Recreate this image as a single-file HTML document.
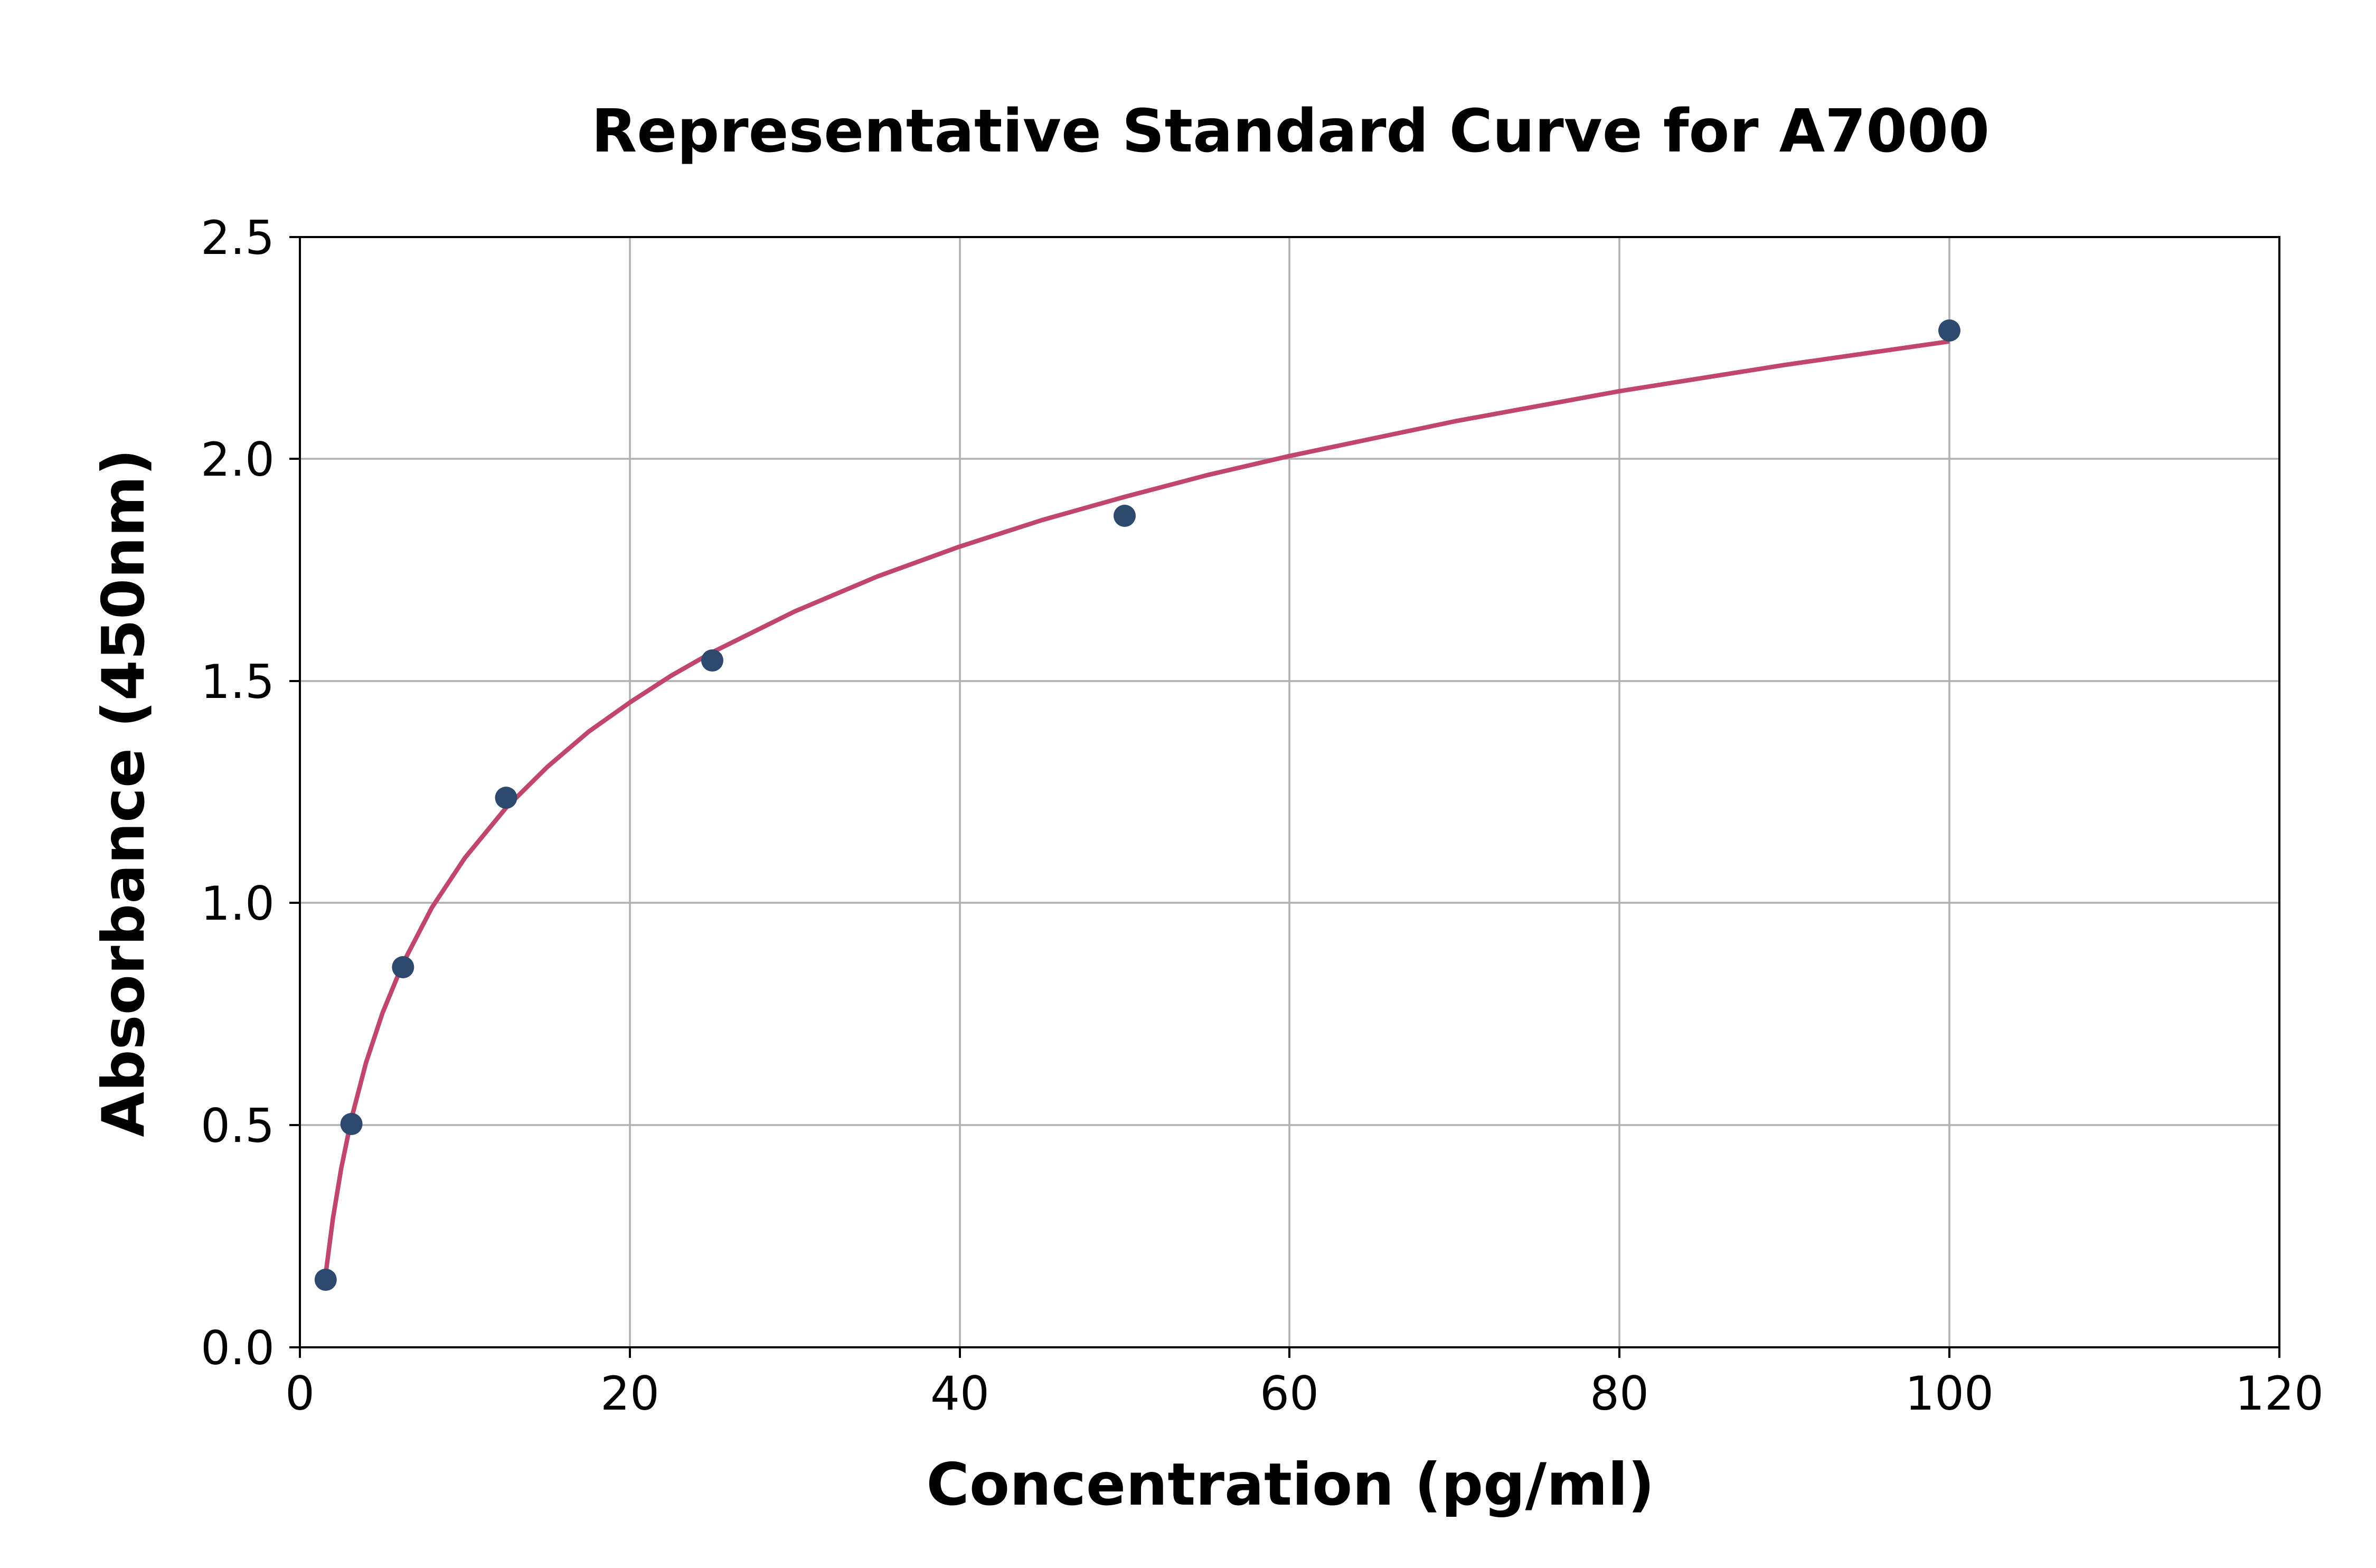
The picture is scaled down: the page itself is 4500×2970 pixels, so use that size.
<!DOCTYPE html>
<html><head><meta charset="utf-8"><style>body{margin:0;background:#fff}svg{display:block}</style></head><body>
<svg width="4500" height="2970" viewBox="0 0 4500 2970" xmlns="http://www.w3.org/2000/svg" font-family="'DejaVu Sans','Liberation Sans',sans-serif">
<rect width="4500" height="2970" fill="#fff"/>
<g stroke="#b0b0b0" stroke-width="3.5">
<line x1="568" y1="449" x2="568" y2="2552"/><line x1="1193" y1="449" x2="1193" y2="2552"/><line x1="1818" y1="449" x2="1818" y2="2552"/><line x1="2442" y1="449" x2="2442" y2="2552"/><line x1="3067" y1="449" x2="3067" y2="2552"/><line x1="3692" y1="449" x2="3692" y2="2552"/>
<line x1="568" y1="2131" x2="4317" y2="2131"/><line x1="568" y1="1710" x2="4317" y2="1710"/><line x1="568" y1="1290" x2="4317" y2="1290"/><line x1="568" y1="869" x2="4317" y2="869"/>
</g>
<polyline fill="none" stroke="#c0466c" stroke-width="8.5" stroke-linejoin="round" points="616.8,2413.2 630.5,2308.3 646.1,2213.8 665.6,2118.8 693,2013.6 724.2,1919.4 763.3,1824.4 817.9,1719.2 880.4,1625 958.5,1530 1036.6,1452.6 1114.7,1386 1192.8,1330.6 1270.9,1280 1349,1235.5 1505.2,1158.1 1661.4,1092 1817.6,1035.3 1973.8,985 2130,941.1 2286.2,900 2442.4,863.7 2754.8,798.1 3067.2,740.9 3379.6,691.3 3692,646.7"/>
<g fill="#2d4a6e">
<circle cx="616.8" cy="2424" r="21"/><circle cx="665.6" cy="2129" r="21"/><circle cx="763.3" cy="1832" r="21"/><circle cx="958.5" cy="1511" r="21"/><circle cx="1349" cy="1251" r="21"/><circle cx="2130" cy="977" r="21"/><circle cx="3692" cy="626" r="21"/>
</g>
<rect x="568" y="449" width="3749" height="2103" fill="none" stroke="#000" stroke-width="4"/>
<g stroke="#000" stroke-width="4">
<line x1="568" y1="2552" x2="568" y2="2572"/><line x1="1193" y1="2552" x2="1193" y2="2572"/><line x1="1818" y1="2552" x2="1818" y2="2572"/><line x1="2442" y1="2552" x2="2442" y2="2572"/><line x1="3067" y1="2552" x2="3067" y2="2572"/><line x1="3692" y1="2552" x2="3692" y2="2572"/><line x1="4317" y1="2552" x2="4317" y2="2572"/>
<line x1="548" y1="2552" x2="568" y2="2552"/><line x1="548" y1="2131" x2="568" y2="2131"/><line x1="548" y1="1710" x2="568" y2="1710"/><line x1="548" y1="1290" x2="568" y2="1290"/><line x1="548" y1="869" x2="568" y2="869"/><line x1="548" y1="449" x2="568" y2="449"/>
</g>
<g font-size="88" text-anchor="middle" fill="#000">
<text x="568" y="2670">0</text><text x="1193" y="2670">20</text><text x="1818" y="2670">40</text><text x="2442" y="2670">60</text><text x="3067" y="2670">80</text><text x="3692" y="2670">100</text><text x="4317" y="2670">120</text>
</g>
<g font-size="88" text-anchor="end" fill="#000">
<text x="520" y="2584">0.0</text><text x="520" y="2163">0.5</text><text x="520" y="1742">1.0</text><text x="520" y="1322">1.5</text><text x="520" y="901">2.0</text><text x="520" y="481">2.5</text>
</g>
<text x="2444" y="287" font-size="112" font-weight="bold" text-anchor="middle">Representative Standard Curve for A7000</text>
<text x="2444" y="2850" font-size="111" font-weight="bold" text-anchor="middle">Concentration (pg/ml)</text>
<text transform="translate(272,1502) rotate(-90)" font-size="111" font-weight="bold" text-anchor="middle">Absorbance (450nm)</text>
</svg>
</body></html>
